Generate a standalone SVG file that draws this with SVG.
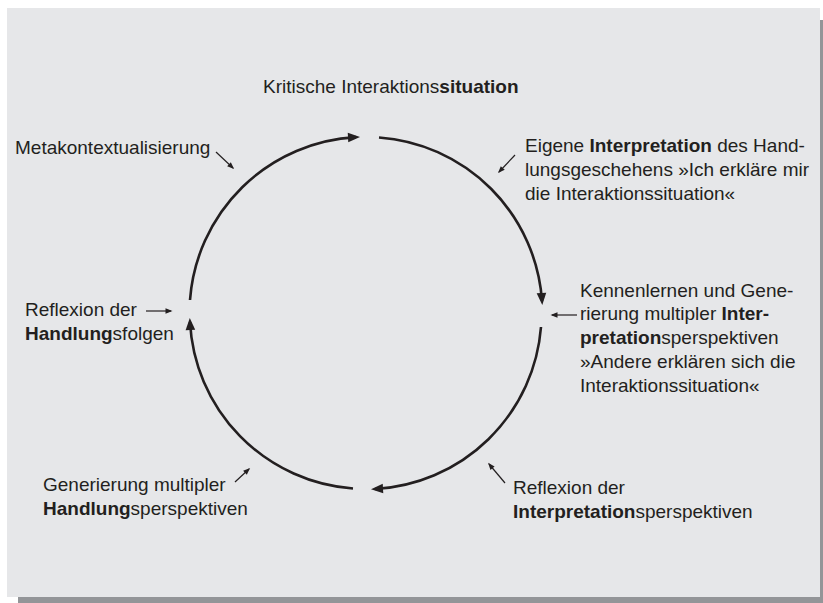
<svg xmlns="http://www.w3.org/2000/svg" width="823" height="603" viewBox="0 0 823 603">
<defs>
<style>
text{font-family:"Liberation Sans",Arial,sans-serif;font-size:19px;fill:#231f20}
.b{font-weight:bold}
.arc{fill:none;stroke:#231f20;stroke-width:2.6;marker-end:url(#big)}
.ptr{fill:none;stroke:#231f20;stroke-width:1.2;marker-end:url(#small)}
</style>
<marker id="big" markerUnits="userSpaceOnUse" markerWidth="20" markerHeight="20" refX="0" refY="0" orient="auto" overflow="visible">
<path d="M4,0 L-8,-4.8 L-8,4.8 z" fill="#231f20"/>
</marker>
<marker id="small" markerUnits="userSpaceOnUse" markerWidth="12" markerHeight="12" refX="0" refY="0" orient="auto" overflow="visible">
<path d="M1.5,0 L-5.5,-2.7 L-5.5,2.7 z" fill="#231f20"/>
</marker>
</defs>
<rect x="18" y="20" width="805" height="583" fill="#939598"/>
<rect x="7" y="8" width="813" height="589" fill="#e6e7e9"/>
<g id="connectors">
<path class="arc" d="M190,300 A176,176 0 0 1 356,137.1"/>
<path class="arc" d="M379,137.5 A176,176 0 0 1 542,301"/>
<path class="arc" d="M541,327 A176,176 0 0 1 375,489"/>
<path class="arc" d="M353,488.5 A176,176 0 0 1 190,322"/>
<line class="ptr" x1="216" y1="152" x2="233" y2="168"/>
<line class="ptr" x1="515" y1="155" x2="499" y2="172"/>
<line class="ptr" x1="577" y1="315" x2="552" y2="315"/>
<line class="ptr" x1="146" y1="311" x2="171" y2="311"/>
<line class="ptr" x1="235" y1="482" x2="249" y2="469"/>
<line class="ptr" x1="505" y1="483" x2="489" y2="464"/>
</g>
<g id="node-kritische">
<text x="263" y="93">Kritische Interaktions<tspan class="b">situation</tspan></text>
</g>
<g id="node-metakontext">
<text x="15" y="154">Metakontextualisierung</text>
</g>
<g id="node-eigene">
<text x="525" y="152">Eigene <tspan class="b">Interpretation</tspan> des Hand-</text>
<text x="525" y="176">lungsgeschehens »Ich erkläre mir</text>
<text x="525" y="200">die Interaktionssituation«</text>
</g>
<g id="node-kennenlernen">
<text x="580" y="297">Kennenlernen und Gene-</text>
<text x="580" y="320">rierung multipler <tspan class="b">Inter-</tspan></text>
<text x="580" y="344"><tspan class="b">pretation</tspan>sperspektiven</text>
<text x="580" y="368">»Andere erklären sich die</text>
<text x="580" y="392">Interaktionssituation«</text>
</g>
<g id="node-reflexion-handlung">
<text x="25" y="316">Reflexion der</text>
<text x="25" y="340"><tspan class="b">Handlung</tspan>sfolgen</text>
</g>
<g id="node-generierung">
<text x="43" y="491">Generierung multipler</text>
<text x="43" y="515"><tspan class="b">Handlung</tspan>sperspektiven</text>
</g>
<g id="node-reflexion-interpretation">
<text x="513" y="494">Reflexion der</text>
<text x="513" y="518"><tspan class="b">Interpretation</tspan>sperspektiven</text>
</g>
</svg>
